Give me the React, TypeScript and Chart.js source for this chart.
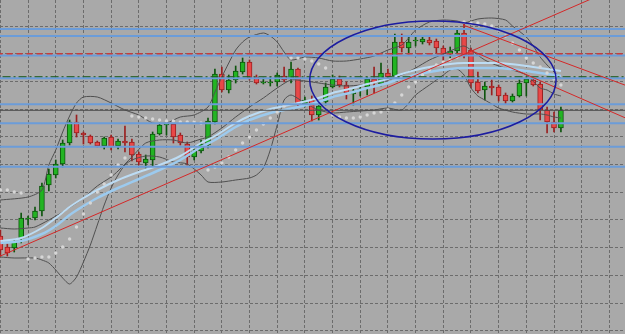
import React, { useEffect, useRef } from "react";
import { Chart, registerables } from "chart.js";

Chart.register(...registerables);

// ---- Candles (price level units) ----
const opens = [
  98, 87, 86, 96, 115, 116, 123, 149, 159, 170,
  191, 212, 201, 198, 192, 188, 197, 188, 193, 192,
  180, 171, 174, 200, 209, 210, 199, 190, 177, 183,
  189, 212, 260, 244, 254, 262, 272, 257, 251, 251,
  252, 258, 255, 265, 230, 234, 219, 232, 247, 255,
  249, 240, 244, 247, 255, 250, 261, 258, 292, 286,
  293, 292, 294, 293, 286, 280, 283, 301, 284, 252,
  244, 248, 247, 239, 233, 238, 251, 254, 250, 224,
  212, 206,
];
const closes = [
  84, 81, 92, 116, 116, 123, 148, 160, 170, 191,
  212, 201, 199, 191, 188, 196, 187, 193, 191, 179,
  172, 175, 200, 209, 210, 197, 191, 177, 183, 190,
  213, 260, 244, 254, 263, 272, 256, 251, 252, 252,
  259, 254, 265, 230, 234, 219, 228, 247, 255, 249,
  241, 242, 245, 255, 251, 261, 257, 292, 286, 292,
  294, 295, 291, 286, 280, 283, 301, 279, 251, 243,
  248, 246, 238, 233, 238, 251, 255, 249, 224, 212,
  206, 224,
];
const highs = [
  104, 90, 94, 121, 118, 127, 151, 165, 174, 194,
  214, 219, 202, 199, 193, 197, 199, 195, 208, 195,
  182, 179, 202, 211, 211, 211, 201, 192, 185, 194,
  216, 265, 267, 259, 268, 276, 274, 259, 256, 257,
  261, 267, 272, 266, 237, 238, 231, 251, 259, 258,
  252, 246, 248, 257, 267, 271, 265, 300, 300, 298,
  298, 297, 297, 295, 288, 287, 304, 310, 286, 262,
  252, 254, 249, 241, 240, 254, 256, 256, 252, 227,
  222, 227,
];
const lows = [
  78, 78, 82, 91, 109, 114, 118, 143, 156, 167,
  189, 197, 190, 190, 187, 185, 184, 185, 182, 173,
  169, 166, 168, 199, 199, 191, 189, 169, 174, 181,
  186, 210, 242, 241, 251, 260, 254, 250, 250, 248,
  248, 252, 251, 228, 227, 213, 214, 229, 246, 247,
  235, 229, 238, 239, 241, 248, 254, 256, 282, 280,
  288, 290, 289, 281, 273, 276, 281, 276, 246, 241,
  234, 239, 233, 230, 232, 237, 238, 248, 214, 201,
  202, 202,
];

// ---- Parabolic SAR dots ----
const sarValues = [
  144, 144, 142, 141, 75, 76, 77, 77, 81, 87,
  95, 107, 120, 131, 142, 150, 159, 169, 176, 218,
  217, 216, 215, 214, 213, 213, 212, 212, 212, 211,
  164, 167, 171, 177, 184, 191, 197, 204, 210, 216,
  222, 228, 276, 276, 275, 273, 270, 266, 219, 217,
  216, 216, 217, 219, 221, 222, 224, 231, 239, 247,
  252, 259, 264, 269, 272, 274, 277, 312, 311, 311,
  310, 308, 304, 298, 291, 284, 276, 271, 267, 261,
  255, 249,
];

// ---- Bands (index, level) ----
const bbUpper = [
  [0, 134], [4, 137], [6, 144], [7, 169], [8, 184], [9, 202], [10, 218], [11, 231], [12, 237],
  [14, 237], [16, 231], [18, 224], [20, 219], [22, 211], [24, 211], [26, 217], [28, 219],
  [30, 227], [31, 242], [32, 257], [33, 271], [34, 284], [35, 292], [36, 297], [38, 301],
  [39, 298], [40, 292], [41, 282], [42, 274], [44, 277], [46, 276], [48, 273], [50, 273],
  [52, 275], [54, 278], [56, 284], [58, 289], [59, 296], [60, 304], [62, 312], [64, 314],
  [66, 313], [67, 311], [69, 315], [71, 316], [73, 314], [74, 308], [76, 297], [77, 288],
  [78, 277], [79, 269], [80, 262], [81, 256],
];
const bbMiddle = [
  [0, 106], [2, 105], [4, 106], [5, 107], [7, 114], [9, 122], [11, 131], [12, 136], [14, 148],
  [16, 157], [17, 163], [19, 177], [21, 191], [23, 194], [25, 194], [27, 191], [29, 195],
  [30, 197], [32, 206], [34, 217], [36, 227], [38, 236], [40, 246], [42, 254], [44, 253],
  [46, 251], [48, 249], [50, 248], [52, 249], [54, 251], [56, 254], [58, 259], [60, 266],
  [62, 274], [64, 280], [66, 286], [67, 288], [68, 284], [70, 274], [72, 268], [74, 264],
  [76, 259], [78, 246], [79, 244], [80, 240], [81, 238],
];
const bbLower = [
  [0, 77], [2, 76], [5, 76], [6, 74], [7, 71], [8, 64], [9, 56], [10, 50], [11, 57], [12, 72],
  [13, 89], [14, 109], [15, 129], [16, 146], [17, 159], [18, 169], [19, 174], [21, 178],
  [23, 177], [25, 172], [27, 170], [29, 159], [30, 152], [32, 152], [34, 154], [36, 156],
  [37, 159], [38, 166], [39, 184], [40, 209], [41, 234], [42, 239], [44, 231], [46, 224],
  [48, 221], [50, 222], [52, 223], [54, 224], [56, 226], [58, 224], [60, 239], [62, 249],
  [64, 259], [65, 264], [66, 265], [67, 259], [68, 246], [69, 238], [70, 234], [71, 230],
  [72, 226], [74, 222], [76, 220], [78, 220], [79, 219], [80, 217], [81, 216],
];

// ---- Moving averages ----
const maSlow = [
  [0, 91], [3, 93], [6, 100], [8, 108], [10, 119], [12, 128], [14, 136], [17, 146], [20, 155],
  [23, 164], [26, 174], [29, 187], [31, 194], [34, 207], [36, 214], [39, 221], [43, 227],
  [46, 232], [48, 237], [51, 242], [53, 246], [56, 251], [58, 256], [60, 259], [62, 262],
  [65, 265], [67, 266], [70, 266], [72, 266], [75, 264], [77, 262], [80, 259], [81, 258],
];
const maFast = [
  [0, 93], [3, 96], [6, 106], [8, 116], [10, 127], [12, 136], [14, 144], [17, 154], [20, 162],
  [23, 169], [26, 178], [29, 191], [31, 198], [34, 211], [36, 218], [39, 225], [43, 231],
  [46, 236], [48, 241], [51, 246], [53, 250], [56, 255], [58, 260], [60, 264], [62, 267],
  [65, 270], [67, 271], [70, 271], [72, 271], [75, 269], [77, 267], [80, 264], [81, 263],
];

// ---- Drawn objects ----
const blueLevels = [305, 298, 278.5, 255.7, 229.7, 210.7, 187.3, 167.3];
const redDashedLevel = 280.3;
const greenDashDotLevel = 257.3;
const grayLevel = 223.7;
const upTrend = [[-1, 75], [91, 352]];
const downTrendUpper = [[66.85, 309], [91, 247]];
const downTrendLower = [[67.86, 284], [91, 214]];
const ellipseShape = { cx: 62.5, cy: 254, rx: 17.8, ry: 59 };

// ---- Grid ----
const xGridIdx = [0, 4, 8, 12, 16, 20, 24, 28, 32, 36, 40, 44, 48, 52, 56, 60, 64, 68, 72, 76, 80, 84, 88];
const yGridLevels = [307.8, 280.1, 252.4, 224.8, 197.1, 169.4, 141.7, 114.1, 86.4, 58.7, 31.0, 3.4];
const xRange = [-0.058, 90.26];
const yRange = [0, 334];

const BG = "#a9a9a9";
const BULL_FILL = "#22b422";
const BULL_EDGE = "#0e550e";
const BEAR_FILL = "#e84848";
const BEAR_EDGE = "#9a2020";

export default function App() {
  const ref = useRef<HTMLCanvasElement>(null);

  useEffect(() => {
    const canvas = ref.current;
    if (!canvas) return;
    const idx = opens.map((_, i) => i);
    const bull = idx.map((i) => closes[i] >= opens[i]);
    const pts = (pairs: number[][]) => pairs.map(([x, y]) => ({ x, y }));
    const hline = (v: number) => [
      { x: -2, y: v },
      { x: 92, y: v },
    ];

    const bgPlugin = {
      id: "bgFill",
      beforeDraw(chart: any) {
        const c = chart.ctx;
        c.save();
        c.fillStyle = BG;
        c.fillRect(0, 0, chart.width, chart.height);
        c.restore();
      },
    };
    const ellipsePlugin = {
      id: "ellipseObj",
      afterDatasetsDraw(chart: any) {
        const xs = chart.scales.x;
        const ys = chart.scales.y;
        const cx = xs.getPixelForValue(ellipseShape.cx);
        const cy = ys.getPixelForValue(ellipseShape.cy);
        const rx = Math.abs(xs.getPixelForValue(ellipseShape.cx + ellipseShape.rx) - cx);
        const ry = Math.abs(ys.getPixelForValue(ellipseShape.cy + ellipseShape.ry) - cy);
        const c = chart.ctx;
        c.save();
        c.strokeStyle = "#1c1ca0";
        c.lineWidth = 1.5;
        c.beginPath();
        c.ellipse(cx, cy, rx, ry, 0, 0, Math.PI * 2);
        c.stroke();
        c.restore();
      },
    };

    const lineDs = (data: any[], color: string, width: number, order: number, extra: any = {}) => ({
      type: "line",
      data,
      borderColor: color,
      borderWidth: width,
      pointRadius: 0,
      fill: false,
      order,
      clip: false,
      ...extra,
    });

    const datasets: any[] = [
      lineDs(pts(upTrend), "#d42828", 1, 1),
      lineDs(pts(downTrendUpper), "#d42828", 1, 1),
      lineDs(pts(downTrendLower), "#d42828", 1, 1),
      lineDs(hline(redDashedLevel), "#c83a3a", 1.5, 2, { borderDash: [6, 4] }),
      lineDs(hline(greenDashDotLevel), "#1d5a1d", 1, 2, { borderDash: [8, 3, 2, 3] }),
      lineDs(hline(grayLevel), "#4a4a4a", 1, 3),
      ...blueLevels.map((v) => lineDs(hline(v), "#6b9cd9", 2, 4)),
      {
        type: "line",
        data: sarValues.map((v, i) => ({ x: i, y: v })),
        showLine: false,
        pointRadius: 1.7,
        pointBackgroundColor: "#d6d6d6",
        pointBorderWidth: 0,
        order: 5,
        clip: false,
      },
      lineDs(pts(maFast), "#bcdcf4", 2, 6, { tension: 0.3 }),
      lineDs(pts(maSlow), "#9ccaee", 2.5, 6, { tension: 0.3 }),
      lineDs(pts(bbUpper), "#505050", 1, 7, { tension: 0.25 }),
      lineDs(pts(bbMiddle), "#505050", 1, 7, { tension: 0.25 }),
      lineDs(pts(bbLower), "#505050", 1, 7, { tension: 0.25 }),
      {
        type: "bar",
        data: idx.map((i) => ({ x: i, y: [opens[i], closes[i]] })),
        backgroundColor: idx.map((i) => (bull[i] ? BULL_FILL : BEAR_FILL)),
        borderColor: idx.map((i) => (bull[i] ? BULL_EDGE : BEAR_EDGE)),
        borderWidth: 1,
        borderSkipped: false,
        barThickness: 5,
        grouped: false,
        order: 8,
      },
      {
        type: "bar",
        data: idx.map((i) => ({ x: i, y: [lows[i], highs[i]] })),
        backgroundColor: idx.map((i) => (bull[i] ? BULL_EDGE : BEAR_EDGE)),
        borderWidth: 0,
        barThickness: 1,
        grouped: false,
        order: 9,
      },
    ];

    const chart = new Chart(canvas, {
      type: "bar",
      data: { datasets },
      options: {
        responsive: false,
        animation: false,
        events: [],
        layout: { padding: 0, autoPadding: false },
        plugins: { legend: { display: false }, tooltip: { enabled: false } },
        scales: {
          x: {
            type: "linear",
            min: xRange[0],
            max: xRange[1],
            offset: false,
            grid: { color: "#6c6c6c", lineWidth: 1, drawTicks: false, offset: false },
            border: { display: false, dash: [3, 2] },
            ticks: { display: false },
            afterBuildTicks: (s: any) => {
              s.ticks = xGridIdx.map((v) => ({ value: v }));
            },
          },
          y: {
            type: "linear",
            min: yRange[0],
            max: yRange[1],
            grid: { color: "#6c6c6c", lineWidth: 1, drawTicks: false },
            border: { display: false, dash: [3, 2] },
            ticks: { display: false },
            afterBuildTicks: (s: any) => {
              s.ticks = yGridLevels.map((v) => ({ value: v }));
            },
          },
        },
      } as any,
      plugins: [bgPlugin, ellipsePlugin],
    } as any);
    return () => chart.destroy();
  }, []);

  return (
    <div style={{ position: "fixed", left: 0, top: 0, width: 625, height: 334 }}>
      <canvas ref={ref} width={625} height={334} style={{ display: "block" }} />
    </div>
  );
}
